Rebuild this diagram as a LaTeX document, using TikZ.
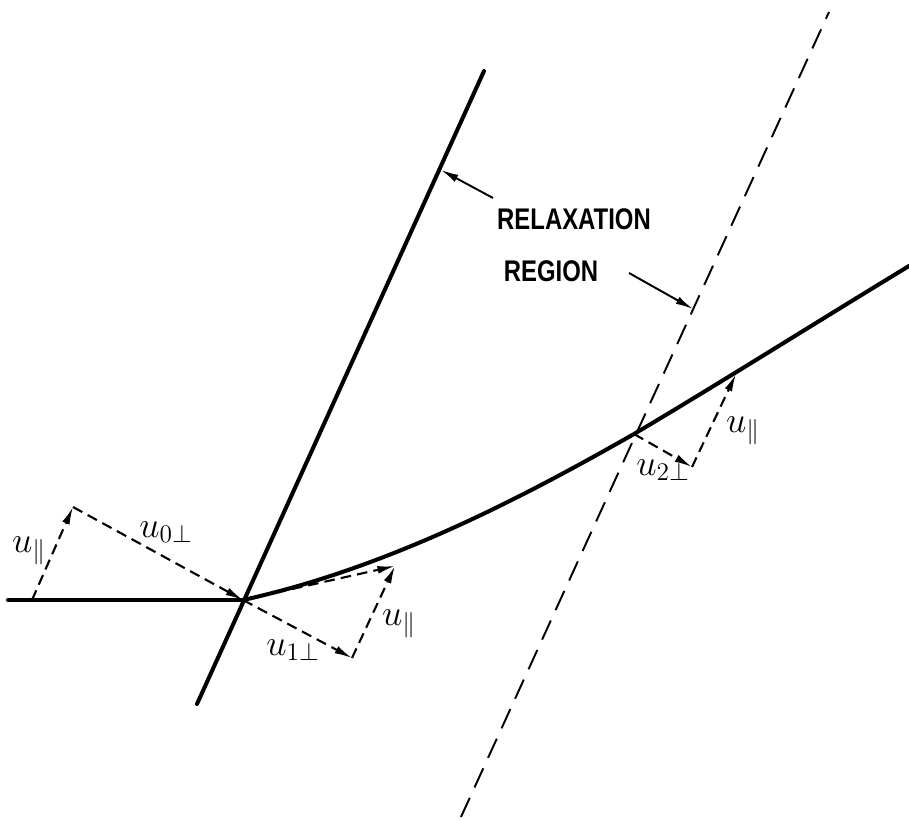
\documentclass[tikz,border=0pt]{standalone}
\usepackage{amsmath}
\usepackage{amssymb}
\usepackage{fontspec}
\newfontfamily\labelfont{Liberation Sans}
\usepackage{tikz}
\usetikzlibrary{calc,positioning,arrows.meta}

\tikzset{
  heavy/.style={line width=2.3pt, line cap=round},
  vecline/.style={line width=1.2pt, dash pattern=on 6pt off 3.5pt, -{Latex[length=10pt,width=4.5pt]}},
  wall/.style={line width=1.1pt, dash pattern=on 12pt off 6.5pt},
  pointer/.style={line width=1.1pt, -{Latex[length=10pt,width=4.5pt]}},
  ulabel/.style={font=\fontsize{21}{24}\selectfont},
  biglabel/.style={font=\labelfont\bfseries\fontsize{17}{20}\selectfont, xscale=0.8}
}

\begin{document}
\begin{tikzpicture}[x=0.02cm, y=-0.02cm]
\useasboundingbox (0,0) rectangle (909,821);
%\draw[help lines, step=50] (0,0) grid (909,821);

% points on the shock lines
\coordinate (O) at (243,600);
\coordinate (P) at (634,434);
\coordinate (H) at (8,600);
\coordinate (L1a) at (197,704);
\coordinate (L1b) at (484,71);
\coordinate (L2a) at (461,817);
\coordinate (L2b) at (829,12);
\coordinate (E) at (909,266);

% shock fronts
\draw[heavy] (L1a) -- (L1b);
\draw[wall] (L2a) -- (L2b);

% field line
\draw[heavy] (H) -- (O);
\draw[heavy] (O) .. controls (393,567) and (532,492) .. (P)
              .. controls (720,383) and (820,320) .. (E);

% velocity components
\coordinate (A) at (32,600);
\coordinate (B) at (73,507);
\coordinate (C) at (352,658);
\coordinate (D) at (395,566);
\coordinate (Q) at (692,467);
\coordinate (F) at (736,374);

\draw[vecline] (A) -- (B);
\draw[vecline] (B) -- (O);
\draw[vecline] (O) -- (C);
\draw[vecline] (C) -- (D);
\draw[vecline] (O) -- (D);
\draw[vecline] (P) -- (Q);
\draw[vecline] (Q) -- (F);

\node[ulabel] (upar0) at (29,551) {$u_{\parallel}$};
\node[ulabel] (uperp0) at (166,532) {$u_{0\perp}$};
\node[ulabel] (uperp1) at (293,650) {$u_{1\perp}$};
\node[ulabel] (upar1) at (399,624) {$u_{\parallel}$};
\node[ulabel] (uperp2) at (663,470) {$u_{2\perp}$};
\node[ulabel] (upar2) at (743,431) {$u_{\parallel}$};

% relaxation region
\node[biglabel] (relax) at (574,219) {RELAXATION};
\node[biglabel] (region) at (551,271) {REGION};
\coordinate (S1) at (493,198);
\coordinate (S2) at (629,273);
\coordinate (T1) at (441,170);
\coordinate (T2) at (693,309);
\draw[pointer] (S1) -- (T1);
\draw[pointer] (S2) -- (T2);

\end{tikzpicture}
\end{document}
